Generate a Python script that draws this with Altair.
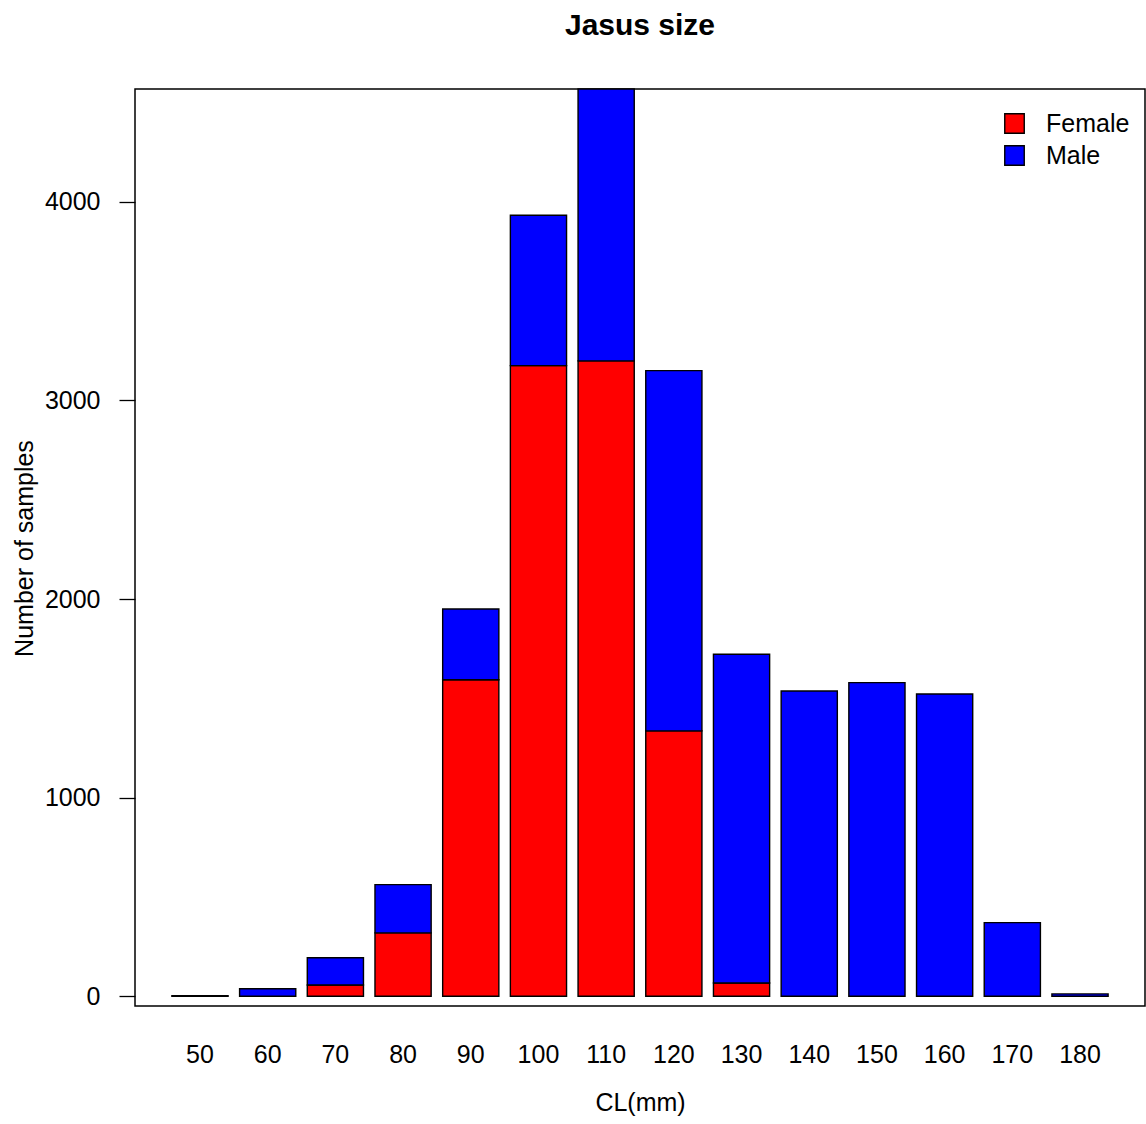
import altair as alt
import pandas as pd

cl = ["50", "60", "70", "80", "90", "100", "110", "120", "130", "140", "150", "160", "170", "180"]
female = [0, 0, 57, 319, 1594, 3175, 3199, 1336, 67, 0, 0, 0, 0, 0]
male = [3, 38, 137, 243, 356, 757, 1369, 1814, 1655, 1537, 1579, 1522, 371, 12]
sexes = ["Female", "Male"]
colors = ["#FF0000", "#0000FF"]

rows = []
for i, c in enumerate(cl):
    rows.append({"CL": c, "Sex": "Female", "n": female[i], "ord": 0})
    rows.append({"CL": c, "Sex": "Male", "n": male[i], "ord": 1})
df = pd.DataFrame(rows)

FONT = "Liberation Sans"

chart = alt.Chart(df).mark_bar(stroke="black", strokeWidth=1.4).encode(
    x=alt.X("CL:O", sort=cl,
            scale=alt.Scale(paddingInner=0.17, paddingOuter=0.545),
            axis=alt.Axis(title="CL(mm)", labelAngle=0, domain=False, ticks=False, tickSize=0,
                          labelPadding=48, labelBaseline="middle", labelFontSize=25,
                          labelColor="black", labelFont=FONT,
                          titleFontSize=25, titleFontWeight="normal", titleFont=FONT,
                          titleColor="black", titleY=96, titleBaseline="middle")),
    y=alt.Y("n:Q", stack="zero",
            scale=alt.Scale(domain=[-49, 4568], nice=False, zero=False),
            axis=alt.Axis(title="Number of samples", values=[0, 1000, 2000, 3000, 4000],
                          format="d",
                          grid=False, domain=False, tickSize=16, tickColor="black", tickWidth=1.3,
                          labelPadding=19, labelFontSize=25, labelColor="black", labelFont=FONT,
                          titleFontSize=25, titleFontWeight="normal", titleFont=FONT,
                          titleColor="black", titleX=-111, titleY=459, titleAngle=270,
                          titleAlign="center", titleBaseline="middle")),
    color=alt.Color("Sex:N", scale=alt.Scale(domain=sexes, range=colors),
                    legend=alt.Legend(title=None, orient="none", legendX=867, legendY=22,
                                      symbolType="square", symbolSize=380,
                                      symbolStrokeColor="black", symbolStrokeWidth=1.4,
                                      symbolOpacity=1, labelFontSize=25, labelFont=FONT,
                                      labelColor="black", labelOffset=19, rowPadding=5,
                                      padding=0)),
    order=alt.Order("ord:Q", sort="ascending"),
).properties(
    width=1010, height=917,
    title=alt.TitleParams("Jasus size", fontSize=30, fontWeight="bold", font=FONT,
                          color="black", anchor="middle", offset=47),
    padding={"left": 135, "top": 89, "right": 1, "bottom": 118},
    autosize=alt.AutoSizeParams(type="none"),
).configure(
    background="white"
).configure_view(
    stroke="black", strokeWidth=1.5
)

chart.save("out.html", embed_options={"renderer": "svg", "actions": False})
